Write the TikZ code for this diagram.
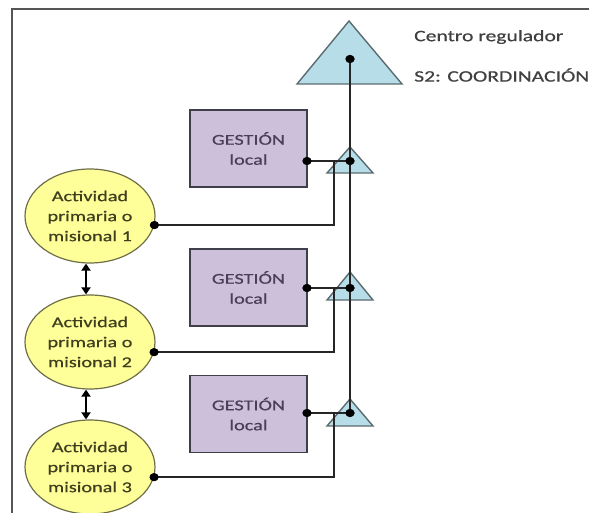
\documentclass[tikz,border=0pt]{standalone}
\usepackage{fontspec}
\setmainfont[FakeStretch=1.35,FakeBold=0.6]{Carlito}
\usetikzlibrary{arrows.meta,shapes.geometric}
\definecolor{triblue}{HTML}{B7DDE8}
\definecolor{triedge}{HTML}{5B6B70}
\definecolor{boxfill}{HTML}{CCC0DA}
\definecolor{boxedge}{HTML}{3F3F4A}
\definecolor{boxtext}{HTML}{4A3F5A}
\definecolor{ellfill}{HTML}{FFFF99}
\definecolor{elledge}{HTML}{6E6E48}
\definecolor{elltext}{HTML}{3F3F1F}
\definecolor{labtext}{HTML}{404040}
\definecolor{framec}{HTML}{555555}
\begin{document}
\begin{tikzpicture}[x=1pt,y=-1pt,
  txt/.style={font=\fontsize{15}{20}\selectfont, align=center, inner sep=0pt},
  act/.style={txt, ellipse, draw=elledge, line width=1.2pt, fill=ellfill, text=elltext,
     minimum width=130pt, minimum height=94pt},
  gbox/.style={txt, rectangle, draw=boxedge, line width=1.4pt, fill=boxfill, text=boxtext,
     minimum width=117pt, minimum height=77pt},
  lab/.style={font=\fontsize{16}{20}\selectfont, inner sep=0pt, text=labtext, anchor=west},
  tri/.style={fill=triblue, draw=triedge, line width=1.4pt, line join=miter},
  dot/.style={ellipse, fill=black, inner sep=0pt, minimum width=9pt, minimum height=8pt},
  wire/.style={draw=black!85, line width=1.8pt},
  dbl/.style={draw=black, line width=2.2pt, {Triangle[width=9pt,length=7pt]}-{Triangle[width=9pt,length=7pt]}},
  framel/.style={draw=framec, line width=1.5pt}]
\useasboundingbox (0,0) rectangle (589,513);
% frame
\draw[framel] (12,513) -- (12,9) -- (589,9);
% triangles
\path[tri] (349,21) -- (402,84) -- (297,84) -- cycle;
\path[tri] (350,147) -- (373,173) -- (327,173) -- cycle;
\path[tri] (350,272) -- (373,300) -- (327,300) -- cycle;
\path[tri] (350,399) -- (373,426) -- (327,426) -- cycle;
% labels
\node[lab] (cr) at (414,37) {Centro regulador};
\node[lab] (s2) at (414,75) {S2: COORDINACIÓN};
% boxes
\node[gbox] (g1) at (248.5,148.5) {GESTIÓN\\local};
\node[gbox] (g2) at (248.5,287.5) {GESTIÓN\\local};
\node[gbox] (g3) at (248.5,414) {GESTIÓN\\local};
% ellipses
\node[act] (e1) at (90,216) {Actividad\\primaria o\\misional 1};
\node[act] (e2) at (90,342) {Actividad\\primaria o\\misional 2};
\node[act] (e3) at (90,467) {Actividad\\primaria o\\misional 3};
% dots
\node[dot] (top) at (350,59) {};
\node[dot] (t1) at (350,161) {};
\node[dot] (t2) at (350,288) {};
\node[dot] (t3) at (350,413) {};
\node[dot] (b1) at (307,161) {};
\node[dot] (b2) at (307,288) {};
\node[dot] (b3) at (307,413) {};
\node[dot] (a1) at (e1.-8) {};
\node[dot] (a2) at (e2.-9) {};
\node[dot] (a3) at (e3.-9) {};
\coordinate (j1) at (334,161);
\coordinate (j2) at (334,288);
\coordinate (j3) at (334,413);
% connectors
\draw[wire] (top.center) -- (t3.center);
\draw[wire] (b1.center) -- (t1.center);
\draw[wire] (b2.center) -- (t2.center);
\draw[wire] (b3.center) -- (t3.center);
\draw[wire] (a1.center) -| (j1);
\draw[wire] (a2.center) -| (j2);
\draw[wire] (a3.center) -| (j3);
% redraw dots above wires
\foreach \d in {top,t1,t2,t3,b1,b2,b3,a1,a2,a3} \fill[black] (\d.center) ellipse [x radius=4.5pt, y radius=4pt];
% double arrows
\draw[dbl] ([xshift=-4pt]e1.south) -- ([xshift=-4pt]e2.north);
\draw[dbl] ([xshift=-4pt]e2.south) -- ([xshift=-4pt]e3.north);
\end{tikzpicture}
\end{document}
